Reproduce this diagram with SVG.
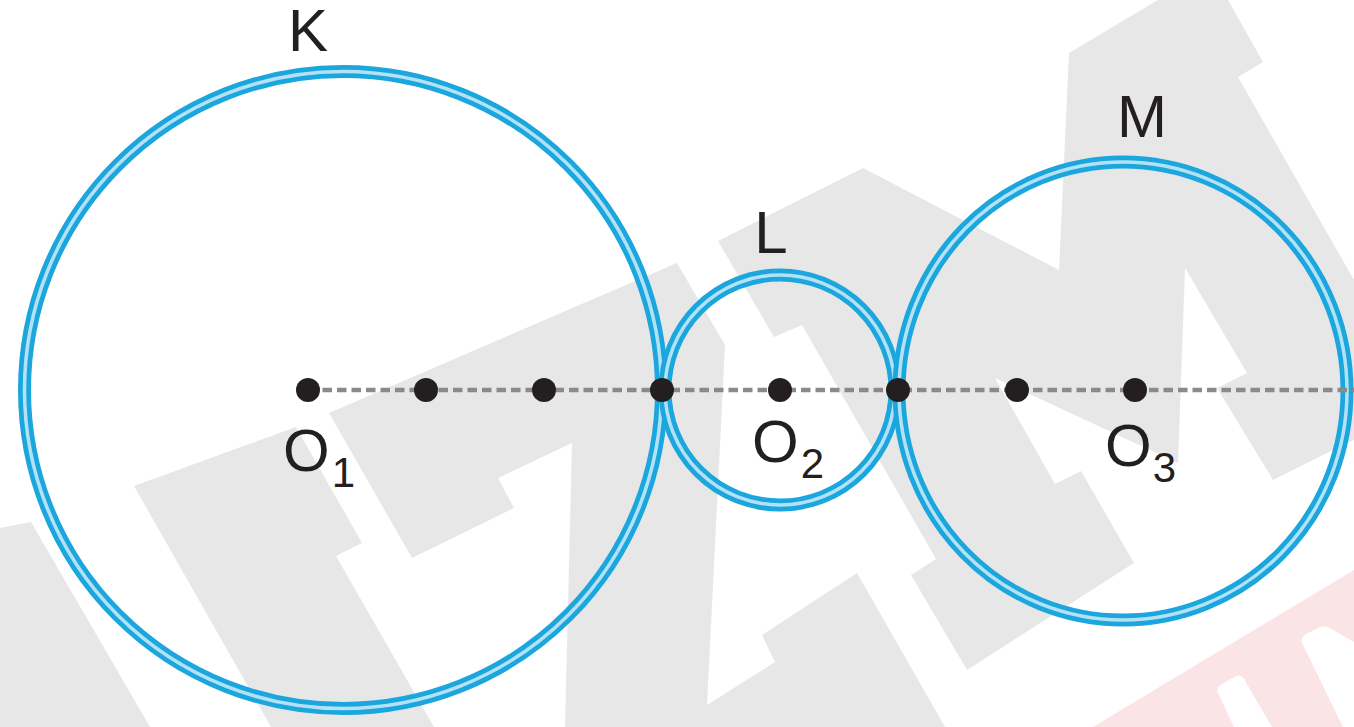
<svg xmlns="http://www.w3.org/2000/svg" width="1354" height="727" viewBox="0 0 1354 727">
<style>
.wm{fill:#e7e7e7}
.wmr{fill:#fbe4e6}
.cut{fill:#ffffff}
.ring{fill:none;stroke:#1ba6dd;stroke-width:13}
.ringhi{fill:none;stroke:#b3e2f6;stroke-width:3.5}
.axis{fill:none;stroke:#8a8a8c;stroke-width:4.5;stroke-dasharray:9.5 5}
.dot{fill:#231f20}
.lbl{font-family:"Liberation Sans",Arial,Helvetica,sans-serif;font-size:60px;fill:#231f20}
.sub{font-size:42px}
</style>
<rect x="0" y="0" width="1354" height="727" fill="#ffffff"/>
<g id="watermark">
<polygon class="wm" points="0,528 31,522 150,727 0,727"/>
<polygon class="wm" points="134,486 296,427 362,543 336,556 434,727 271,727"/>
<polygon class="wm" points="329,413 677,263 725,345 707,705 775,662 762,635 857,573 945,727 565,727 572,443 498,478 514,508 412,558"/>
<polygon class="wm" points="718,241 863,168 1059,270 1069,53 1158,0 1228,0 1263,62 1238,77 1354,280 1354,440 1347,443 1273,480 1217,388 1247,373 1185,268 1178,463 995,378 1055,484 1081,471 1134,563 967,670 911,575 936,559 802,325 774,337"/>
<polygon class="wmr" points="1354,570 1093,727 1354,727"/>
<path class="cut" d="M1218,693 Q1216,688 1222,684 L1236,676 Q1241,674 1244,679 L1272,727 L1234,727 Z"/>
<path class="cut" d="M1302,643 Q1300,638 1306,634 L1320,627 Q1325,625 1330,628 L1354,642 L1354,727 L1343,727 Z"/>
</g>
<g id="circle-K">
<circle class="ring" cx="343" cy="390" r="318.5"/>
<circle class="ringhi" cx="343" cy="390" r="318.5"/>
<text class="lbl" x="308" y="51" text-anchor="middle">K</text>
</g>
<g id="circle-L">
<circle class="ring" cx="780" cy="390" r="115"/>
<circle class="ringhi" cx="780" cy="390" r="115"/>
<text class="lbl" x="771" y="253" text-anchor="middle">L</text>
</g>
<g id="circle-M">
<ellipse class="ring" cx="1123" cy="391" rx="224" ry="229"/>
<ellipse class="ringhi" cx="1123" cy="391" rx="224" ry="229"/>
<text class="lbl" x="1142" y="137" text-anchor="middle">M</text>
</g>
<g id="connectors">
<line class="axis" x1="308" y1="390" x2="1354" y2="390"/>
</g>
<g id="points">
<circle class="dot" cx="308" cy="390" r="12"/>
<circle class="dot" cx="426" cy="390" r="12"/>
<circle class="dot" cx="544" cy="390" r="12"/>
<circle class="dot" cx="662" cy="390" r="12"/>
<circle class="dot" cx="780" cy="390" r="12"/>
<circle class="dot" cx="898" cy="390" r="12"/>
<circle class="dot" cx="1017" cy="390" r="12"/>
<circle class="dot" cx="1135" cy="390" r="12"/>
</g>
<g id="labels">
<text class="lbl" x="283" y="471">O<tspan class="sub" dx="2" dy="16">1</tspan></text>
<text class="lbl" x="752" y="462">O<tspan class="sub" dx="2" dy="16">2</tspan></text>
<text class="lbl" x="1105" y="466">O<tspan class="sub" dx="1" dy="16">3</tspan></text>
</g>
</svg>
